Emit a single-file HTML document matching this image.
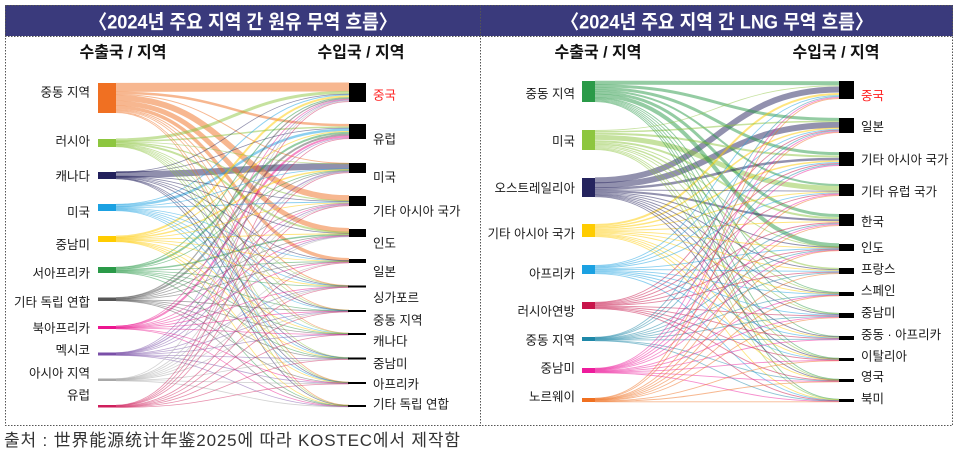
<!DOCTYPE html>
<html>
<head>
<meta charset="utf-8">
<style>
  html,body{margin:0;padding:0;background:#fff;}
  body{width:958px;height:452px;overflow:hidden;}
  svg{display:block;}
  text{font-family:"Liberation Sans","Noto Sans CJK KR",sans-serif;}
</style>
</head>
<body>
<svg xmlns="http://www.w3.org/2000/svg" width="958" height="452" viewBox="0 0 958 452">
  <rect x="0" y="0" width="958" height="452" fill="#fff"/>

  <!-- header band -->
  <rect x="5" y="5" width="948" height="31" fill="#3a3a7c"/>
  <text x="89" y="28.5" font-size="19.5" font-weight="bold" fill="#fff" textLength="308" lengthAdjust="spacingAndGlyphs">〈2024년 주요 지역 간 원유 무역 흐름〉</text>
  <text x="561" y="28.5" font-size="19.5" font-weight="bold" fill="#fff" textLength="312" lengthAdjust="spacingAndGlyphs">〈2024년 주요 지역 간 LNG 무역 흐름〉</text>

  <!-- borders -->
  <g fill="none" stroke="#555" stroke-width="1" stroke-dasharray="1.5,1.5">
    <rect x="5.5" y="5.5" width="947" height="420"/>
    <line x1="480.5" y1="5" x2="480.5" y2="426"/>
    <line x1="5" y1="36.5" x2="953" y2="36.5"/>
  </g>

  <!-- column titles -->
  <text x="123" y="57.5" font-size="16" font-weight="bold" fill="#111" text-anchor="middle">수출국 / 지역</text>
  <text x="361" y="57.5" font-size="16" font-weight="bold" fill="#111" text-anchor="middle">수입국 / 지역</text>
  <text x="598" y="57.5" font-size="16" font-weight="bold" fill="#111" text-anchor="middle">수출국 / 지역</text>
  <text x="836" y="57.5" font-size="16" font-weight="bold" fill="#111" text-anchor="middle">수입국 / 지역</text>

  <g id="links1"></g>
  <g id="links2"></g>
  <g id="nodes"></g>

  <!-- left sources labels -->
  <g font-size="12.5" fill="#1a1a1a" text-anchor="end">
    <text x="90" y="96.6">중동 지역</text>
    <text x="90" y="145.6">러시아</text>
    <text x="90" y="180.6">캐나다</text>
    <text x="90" y="216.6">미국</text>
    <text x="90" y="249">중남미</text>
    <text x="90" y="277.6">서아프리카</text>
    <text x="90" y="306.6">기타 독립 연합</text>
    <text x="90" y="332.6">북아프리카</text>
    <text x="90" y="354.6">멕시코</text>
    <text x="90" y="377.6">아시아 지역</text>
    <text x="90" y="399.6">유럽</text>
  </g>
  <!-- left targets labels -->
  <g font-size="12.5" fill="#1a1a1a">
    <text x="373" y="99.6" fill="#ff1f1f">중국</text>
    <text x="373" y="143.6">유럽</text>
    <text x="373" y="181.6">미국</text>
    <text x="373" y="215.6">기타 아시아 국가</text>
    <text x="373" y="247.6">인도</text>
    <text x="373" y="276">일본</text>
    <text x="373" y="302">싱가포르</text>
    <text x="373" y="324.6">중동 지역</text>
    <text x="373" y="345.6">캐나다</text>
    <text x="373" y="368">중남미</text>
    <text x="373" y="388.6">아프리카</text>
    <text x="373" y="408.6">기타 독립 연합</text>
  </g>

  <!-- right sources labels -->
  <g font-size="12.5" fill="#1a1a1a" text-anchor="end">
    <text x="575" y="98">중동 지역</text>
    <text x="575" y="145.6">미국</text>
    <text x="575" y="192.6">오스트레일리아</text>
    <text x="575" y="238">기타 아시아 국가</text>
    <text x="575" y="278">아프리카</text>
    <text x="575" y="315.6">러시아연방</text>
    <text x="575" y="344.6">중동 지역</text>
    <text x="575" y="372.6">중남미</text>
    <text x="575" y="401">노르웨이</text>
  </g>
  <!-- right targets labels -->
  <g font-size="12.5" fill="#1a1a1a">
    <text x="861" y="100" fill="#ff1f1f">중국</text>
    <text x="861" y="131">일본</text>
    <text x="861" y="164">기타 아시아 국가</text>
    <text x="861" y="196">기타 유럽 국가</text>
    <text x="861" y="226">한국</text>
    <text x="861" y="252">인도</text>
    <text x="861" y="273.6">프랑스</text>
    <text x="861" y="295">스페인</text>
    <text x="861" y="317">중남미</text>
    <text x="861" y="339">중동 · 아프리카</text>
    <text x="861" y="360.6">이탈리아</text>
    <text x="861" y="381">영국</text>
    <text x="861" y="403">북미</text>
  </g>

  <!-- footer -->
  <text x="4" y="446" font-size="17" fill="#333" textLength="456">출처 : 世界能源统计年鉴2025에 따라 KOSTEC에서 제작함</text>
</svg>

<script>
(function(){
  var NS='http://www.w3.org/2000/svg';
  function draw(gid, sx, tx, S, T, main, thinW, skip){
    var g=document.getElementById(gid);
    var key={};
    main.forEach(function(l){key[l[0]+'-'+l[1]]=1;});
    var L=main.map(function(l){return [l[0],l[1],l[2],0,0];});
    for(var s=0;s<S.length;s++){
      for(var t=0;t<T.length;t++){
        if(key[s+'-'+t]) continue;
        if((s*5+t*3+skip)%7===0) continue;
        L.push([s,t,thinW,0,0]);
      }
    }
    var so=S.map(function(){return [];}), ti=T.map(function(){return [];});
    L.forEach(function(l){so[l[0]].push(l);ti[l[1]].push(l);});
    function place(a,n,idx){
      var tot=0; a.forEach(function(l){tot+=l[2];});
      var h=n[1]-n[0], c=0;
      a.forEach(function(l){l[idx]=n[0]+(c+l[2]/2)*h/tot;c+=l[2];});
    }
    so.forEach(function(a,i){a.sort(function(x,y){return x[1]-y[1];});place(a,S[i],3);});
    ti.forEach(function(a,i){a.sort(function(x,y){return x[0]-y[0];});place(a,T[i],4);});
    L.sort(function(a,b){return b[2]-a[2];});
    var mx=(sx+tx)/2;
    L.forEach(function(l){
      var p=document.createElementNS(NS,'path');
      p.setAttribute('d','M'+sx+','+l[3].toFixed(2)+'C'+mx+','+l[3].toFixed(2)+' '+mx+','+l[4].toFixed(2)+' '+tx+','+l[4].toFixed(2));
      p.setAttribute('stroke',S[l[0]][2]);
      p.setAttribute('stroke-width',l[2]);
      p.setAttribute('fill','none');
      p.setAttribute('stroke-opacity', l[2]>1.2?0.5:0.5);
      g.appendChild(p);
    });
    var nodes=document.getElementById('nodes');
    S.forEach(function(n){
      var r=document.createElementNS(NS,'rect');
      r.setAttribute('x',n[3]);r.setAttribute('y',n[0]);
      r.setAttribute('width',n[4]);r.setAttribute('height',Math.max(2,n[1]-n[0]));
      r.setAttribute('fill',n[2]);nodes.appendChild(r);
    });
    T.forEach(function(n){
      var r=document.createElementNS(NS,'rect');
      r.setAttribute('x',n[2]);r.setAttribute('y',n[0]);
      r.setAttribute('width',n[3]);r.setAttribute('height',Math.max(2,n[1]-n[0]));
      r.setAttribute('fill','#000');nodes.appendChild(r);
    });
  }

  // Left (crude oil)
  var S1=[
    [83,113,'#f07022',98,18],
    [139,147,'#8dc63f',98,18],
    [172,179,'#22205c',98,18],
    [204,211,'#1ba1e2',98,18],
    [236,242,'#ffcc00',98,18],
    [267,273,'#2a9a48',98,18],
    [297.5,301,'#555555',98,18],
    [326,329,'#ec158f',98,18],
    [352.5,355.5,'#7a4fa8',98,18],
    [378.5,381,'#a8a8a8',98,18],
    [405,407.5,'#cf1f5c',98,18]
  ];
  var T1=[
    [83,102,349,17],[124,139,349,17],[163,173,349,17],[196,206,349,17],
    [229,237,349,17],[259,263,349,17],[285.5,287.5,348,18],[310,312,348,18],
    [333,335,348,18],[357.5,359.5,348,18],[382,384,348,18],[405,407,348,18]
  ];
  var M1=[
    [0,0,9],[0,1,2.5],[0,2,1],[0,3,6],[0,4,5],[0,5,3.5],[0,6,1],[0,7,0.8],[0,10,0.8],
    [1,0,3],[1,1,1.5],[1,3,1.2],[1,4,2],
    [2,2,6.5],[2,1,0.8],
    [3,1,2.5],[3,3,1],[3,0,1],[3,5,0.8],
    [4,0,2],[4,2,1.5],[4,1,1],[4,4,1],
    [5,1,2],[5,4,1.5],[5,0,1],
    [6,1,2],[6,0,1.2],
    [7,1,2],
    [8,2,1.2],[8,1,0.8]
  ];
  draw('links1',116,349,S1,T1,M1,0.8,1);

  // Right (LNG)
  var S2=[
    [81,102,'#2a9a48',582,13],
    [130,150,'#8dc63f',582,13],
    [178,197,'#25245e',582,13],
    [224,237,'#ffcc00',582,13],
    [265,274,'#1ba1e2',582,13],
    [302,309,'#c8144a',582,13],
    [337,341,'#1e88a8',582,13],
    [368,373,'#ee1c9c',582,13],
    [398,402,'#f07020',582,13]
  ];
  var T2=[
    [81,99,839,15],[118,133,839,15],[152,166,839,15],[184,196,839,15],
    [214,226,839,15],[244,251,839,15],[268,274,839,15],[292,296,839,15],
    [313,318,839,15],[336,340,839,15],[358,361,839,15],[379,382,839,15],[399,402,839,15]
  ];
  var M2=[
    [0,0,4],[0,1,3],[0,2,3],[0,3,2],[0,4,3],[0,5,4],
    [1,3,5],[1,1,1.5],[1,2,2],[1,4,2],[1,6,1.5],[1,7,1],[1,0,0.8],[1,5,1],
    [2,0,6],[2,1,6],[2,2,2.5],[2,4,2],[2,5,1],
    [3,0,2],[3,1,1.5],[3,2,1.5],[3,4,1],[3,3,1]
  ];
  draw('links2',595,839,S2,T2,M2,0.9,3);
})();
</script>
</body>
</html>
